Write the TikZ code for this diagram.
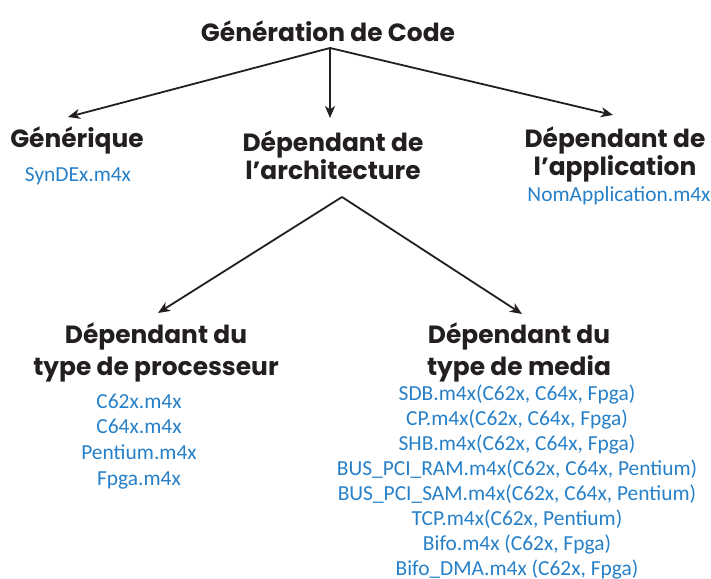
\documentclass[tikz,border=0pt]{standalone}
\usepackage{fontspec}
\usetikzlibrary{arrows.meta}
\newfontfamily\headfont{Poppins}[UprightFont=* Bold]
\newfontfamily\listfont{Carlito}
\definecolor{inkblack}{RGB}{35,31,32}
\definecolor{fileblue}{RGB}{38,128,200}
\begin{document}
\begin{tikzpicture}[x=1bp,y=-1bp,
  head/.style={inner sep=0pt, align=center, text=inkblack,
    font=\headfont\fontsize{25}{29}\selectfont},
  headlow/.style={head, font=\headfont\fontsize{25}{32}\selectfont},
  files/.style={inner sep=0pt, align=center, text=fileblue,
    font=\listfont\fontsize{21.5}{25}\selectfont},
  arr/.style={draw=inkblack, line width=1.8bp,
    -{Stealth[length=12bp,width=10bp,inset=3.5bp]}}]
\useasboundingbox (0,0) rectangle (711,579);
% headings (anchor base = baseline of the last line)
\node[head, anchor=base] (root) at (328,42) {Génération de Code};
\node[head, anchor=base] (gen) at (77,148) {Générique};
\node[head, anchor=base] (arch) at (333,180) {Dépendant de\\l’architecture};
\node[head, anchor=base] (app) at (615,176) {Dépendant de\\l’application};
\node[headlow, anchor=base] (proc) at (156,375) {Dépendant du\\type de processeur};
\node[headlow, anchor=base] (media) at (519,375) {Dépendant du\\type de media};
% file names
\node[files, anchor=base] (genf) at (78,182) {SynDEx.m4x};
\node[files, anchor=base] (appf) at (619,202) {NomApplication.m4x};
\node[files, anchor=base, font=\listfont\fontsize{21.5}{25.6}\selectfont] (procf) at (139,485) {C62x.m4x\\C64x.m4x\\Pentium.m4x\\Fpga.m4x};
\node[files, anchor=base] (mediaf) at (517,575) {SDB.m4x(C62x, C64x, Fpga)\\CP.m4x(C62x, C64x, Fpga)\\SHB.m4x(C62x, C64x, Fpga)\\BUS\_PCI\_RAM.m4x(C62x, C64x, Pentium)\\BUS\_PCI\_SAM.m4x(C62x, C64x, Pentium)\\TCP.m4x(C62x, Pentium)\\Bifo.m4x (C62x, Fpga)\\Bifo\_DMA.m4x (C62x, Fpga)};
% connector end points
\coordinate (rootS) at (330,48);
\coordinate (genT) at (68,117);
\coordinate (archT) at (330,118);
\coordinate (appT) at (613,115);
\coordinate (archS) at (342,197);
\coordinate (procT) at (158,313);
\coordinate (mediaT) at (522,314);
% connectors
\draw[arr] (rootS) -- (genT);
\draw[arr] (rootS) -- (archT);
\draw[arr] (rootS) -- (appT);
\draw[arr] (archS) -- (procT);
\draw[arr] (archS) -- (mediaT);
\end{tikzpicture}
\end{document}
